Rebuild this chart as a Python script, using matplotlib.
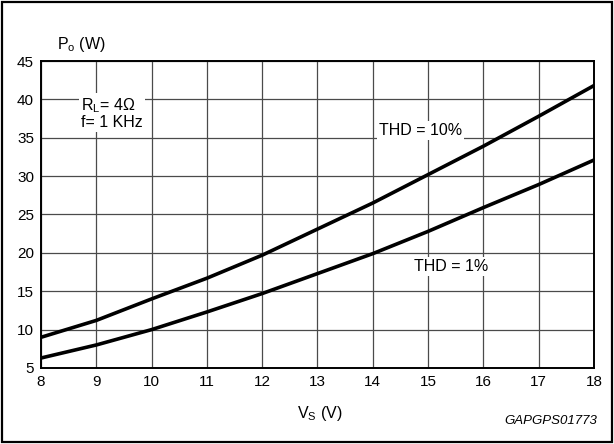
import matplotlib
matplotlib.use("Agg")
from matplotlib import pyplot as plt
from matplotlib.patches import Rectangle

plt.rcParams['font.family'] = ['Liberation Sans', 'DejaVu Sans']

vs = [8, 9, 10, 11, 12, 13, 14, 15, 16, 17, 18]
po_thd10 = [9.0, 11.2, 14.0, 16.7, 19.7, 23.1, 26.5, 30.2, 33.9, 37.8, 41.8]
po_thd1 = [6.3, 8.0, 10.0, 12.3, 14.7, 17.3, 19.9, 22.8, 25.9, 28.9, 32.1]

xticks = [8, 9, 10, 11, 12, 13, 14, 15, 16, 17, 18]
yticks = [5, 10, 15, 20, 25, 30, 35, 40, 45]

fig = plt.figure(figsize=(6.14, 4.44), dpi=100)
ax = fig.add_axes([0.0668, 0.1712, 0.9006, 0.6914])

ax.plot(vs, po_thd10, color='black', lw=2.6, zorder=3)
ax.plot(vs, po_thd1, color='black', lw=2.6, zorder=3)

ax.set_xlim(8, 18)
ax.set_ylim(5, 45)
ax.set_xticks(xticks)
ax.set_yticks(yticks)
ax.tick_params(length=0, labelsize=11, pad=5)
ax.grid(True, color='#4a4a4a', lw=0.9)
ax.set_axisbelow(True)
for s in ax.spines.values():
    s.set_linewidth(1.4)

box = dict(facecolor='white', edgecolor='none', pad=1.5)
ax.text(14.11, 36.0, 'THD = 10%', fontsize=11.5, va='center', ha='left', bbox=box, zorder=2)
ax.text(14.74, 18.2, 'THD = 1%', fontsize=11.5, va='center', ha='left', bbox=box, zorder=2)
ax.text(8.72, 38.2, 'R$_\\mathregular{L}$= 4Ω\nf= 1 KHz', fontsize=11.5, va='center', ha='left',
        linespacing=1.0, bbox=box, zorder=2)

fig.text(57 / 614, 1 - 45 / 444, 'P$_\\mathregular{o}$ (W)', fontsize=11.5, va='center', ha='left')
fig.text(320 / 614, 1 - 413 / 444, 'V$_\\mathregular{S}$ (V)', fontsize=11.5, va='center', ha='center')
fig.text(597 / 614, 1 - 421 / 444, 'GAPGPS01773', fontsize=9.5, style='italic', va='center', ha='right')

fig.add_artist(Rectangle((0.003, 0.004), 0.994, 0.992, transform=fig.transFigure,
                         fill=False, edgecolor='black', lw=1.6))

fig.savefig('out.png', dpi=100)
